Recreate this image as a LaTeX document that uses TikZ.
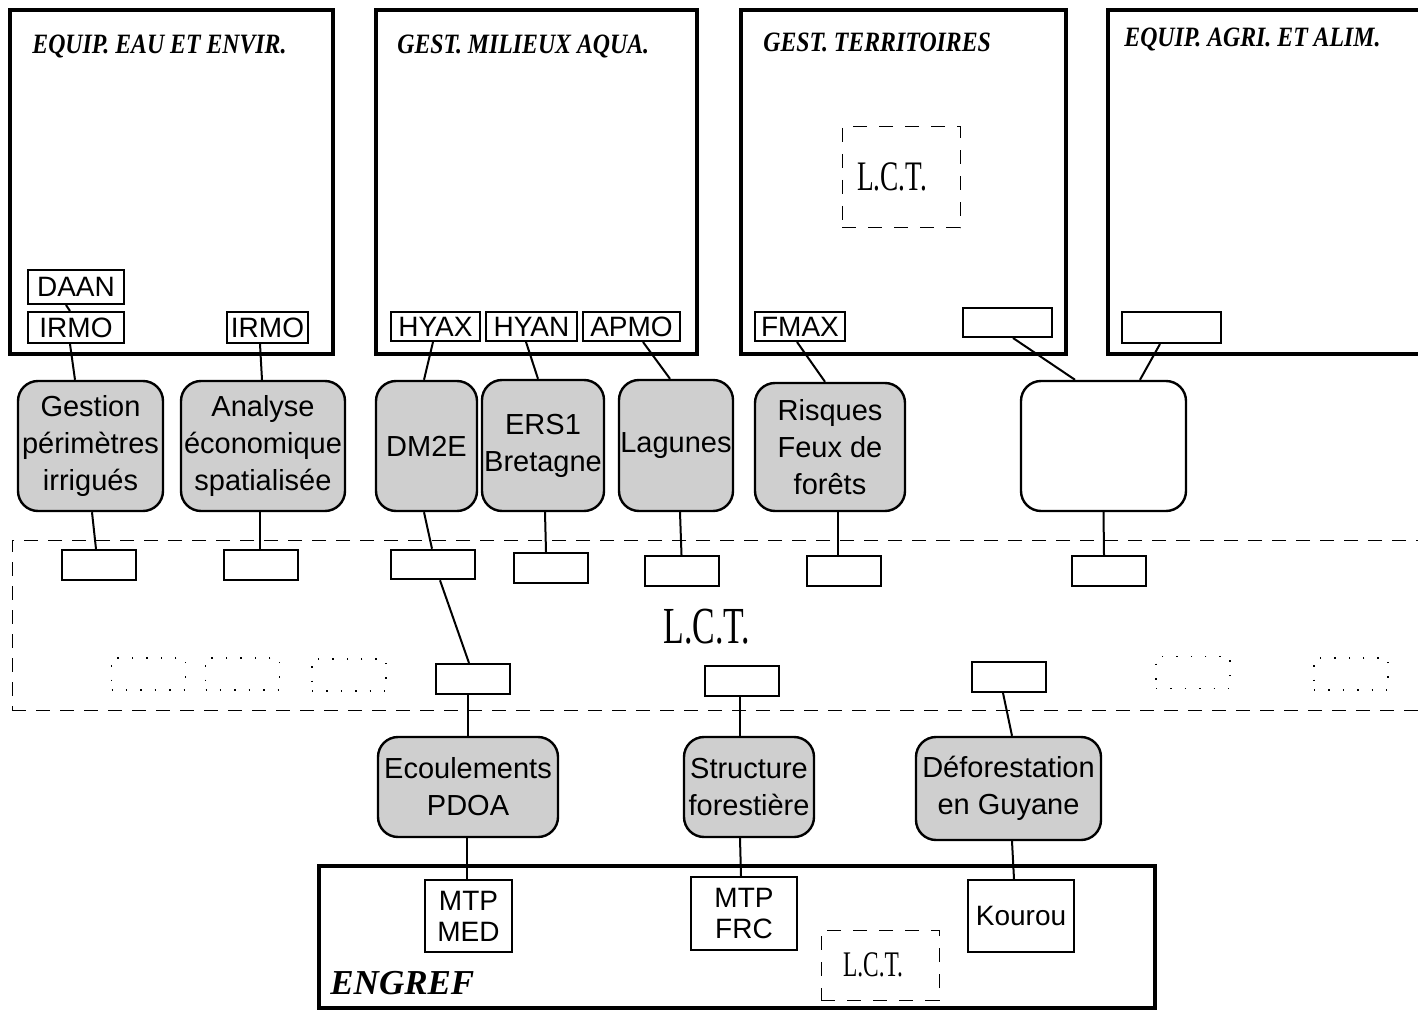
\documentclass[tikz,border=0pt]{standalone}
\usepackage{fontspec}
\setmainfont{Liberation Serif}
\newfontfamily\hv{Liberation Sans}
\newfontfamily\lctfont[FakeStretch=0.65]{Liberation Serif}
\newfontfamily\titlefont[FakeStretch=0.85]{Liberation Serif}
\begin{document}
\begin{tikzpicture}[x=0.5pt,y=-0.5pt,
  bigbox/.style={draw,line width=2pt,inner sep=0pt},
  title/.style={anchor=west,inner sep=0pt,font=\titlefont\fontsize{14}{16}\selectfont\bfseries\itshape},
  sbox/.style={draw,line width=1pt,inner sep=0pt,font=\hv\fontsize{14}{16}\selectfont},
  gbox/.style={draw,line width=1.2pt,rounded corners=10pt,fill=gray!38,inner sep=0pt,align=center,font=\hv\fontsize{14.5}{18.5}\selectfont},
  wbox/.style={draw,line width=1.2pt,rounded corners=10pt,fill=white,inner sep=0pt},
  cbox/.style={draw,line width=1pt,inner sep=0pt,minimum width=37pt,minimum height=15pt},
  lctbox/.style={draw,line width=0.5pt,dash pattern=on 7pt off 6pt,inner sep=0pt},
  dotbox/.style={draw,line width=0.7pt,dash pattern=on 0.7pt off 6.5pt,inner sep=0pt,minimum width=37pt,minimum height=16pt},
  mbox/.style={draw,line width=1pt,inner sep=0pt,align=center,font=\hv\fontsize{14}{15.5}\selectfont},
  conn/.style={line width=1pt}]
\useasboundingbox (0,0) rectangle (1418,1010);

% big boxes
\node[bigbox,minimum width=161.5pt,minimum height=172pt] (b1) at (171.5,182) {};
\node[bigbox,minimum width=160.5pt,minimum height=172pt] (b2) at (536.5,182) {};
\node[bigbox,minimum width=162.5pt,minimum height=172pt] (b3) at (903.5,182) {};
\node[bigbox,minimum width=166pt,minimum height=172pt] (b4) at (1274,182) {};
\node[title] (t1) at (32,47) {EQUIP. EAU ET ENVIR.};
\node[title] (t2) at (397,47) {GEST. MILIEUX AQUA.};
\node[title] (t3) at (763,42) {GEST. TERRITOIRES};
\node[title] (t4) at (1124,40) {EQUIP. AGRI. ET ALIM.};

\node[lctbox,minimum width=59pt,minimum height=50.5pt] (l1) at (901,177.5) {};
\node[font=\lctfont\fontsize{21}{22}\selectfont] (l1t) at (892,177) {L.C.T.};

% small boxes in big boxes
\node[sbox,minimum width=48pt,minimum height=17pt] (daan) at (76,287) {DAAN};
\node[sbox,minimum width=48pt,minimum height=15.5pt] (irmo1) at (76,327.5) {IRMO};
\node[sbox,minimum width=40.5pt,minimum height=15.5pt] (irmo2) at (267.5,327.5) {IRMO};
\node[sbox,minimum width=44.5pt,minimum height=14.5pt] (hyax) at (435.5,326.5) {HYAX};
\node[sbox,minimum width=45.5pt,minimum height=14.5pt] (hyan) at (531.5,326.5) {HYAN};
\node[sbox,minimum width=48.5pt,minimum height=14.5pt] (apmo) at (631.5,326.5) {APMO};
\node[sbox,minimum width=45pt,minimum height=14.5pt] (fmax) at (800,326.5) {FMAX};
\node[sbox,minimum width=44.5pt,minimum height=14.5pt] (e3) at (1007.5,322.5) {};
\node[sbox,minimum width=49.5pt,minimum height=15.5pt] (e4) at (1171.5,327.5) {};

% gray rounded boxes row 1
\node[gbox,minimum width=72.5pt,minimum height=65pt] (g1) at (90.5,446) {Gestion\\périmètres\\irrigués};
\node[gbox,minimum width=82pt,minimum height=65pt] (g2) at (263,446) {Analyse\\économique\\spatialisée};
\node[gbox,minimum width=50.5pt,minimum height=65pt] (g3) at (426.5,446) {DM2E};
\node[gbox,minimum width=61pt,minimum height=65.5pt] (g4) at (543,445.5) {ERS1\\Bretagne};
\node[gbox,minimum width=57pt,minimum height=65.5pt] (g5) at (676,445.5) {Lagunes};
\node[gbox,minimum width=75pt,minimum height=64pt] (g6) at (830,447) {Risques\\Feux de\\forêts};
\node[wbox,minimum width=82.5pt,minimum height=65pt] (g7) at (1103.5,446) {};

% L.C.T. band
\node[lctbox,dash pattern=on 7pt off 5pt,minimum width=714pt,minimum height=85pt] (band) at (726,625) {};
\node[font=\lctfont\fontsize{26}{28}\selectfont] (bandt) at (707,627) {L.C.T.};

% row A boxes
\node[cbox] (a1) at (99,565) {};
\node[cbox] (a2) at (261,565) {};
\node[cbox,line width=1.3pt,minimum width=42pt,minimum height=14.5pt] (a3) at (433,564.5) {};
\node[cbox] (a4) at (550.5,568) {};
\node[cbox] (a5) at (681.5,571) {};
\node[cbox] (a6) at (844,571) {};
\node[cbox] (a7) at (1109,571) {};

% row B boxes
\node[cbox] (c1) at (472.5,679) {};
\node[cbox] (c2) at (741.5,680.5) {};
\node[cbox] (c3) at (1009,677) {};

% dotted boxes
\node[dotbox] (d1) at (148.5,674) {};
\node[dotbox] (d2) at (242.5,674) {};
\node[dotbox] (d3) at (349,675) {};
\node[dotbox] (d4) at (1193,672.5) {};
\node[dotbox] (d5) at (1351,674) {};

% gray row 2
\node[gbox,minimum width=90pt,minimum height=50pt] (h1) at (468,787) {Ecoulements\\PDOA};
\node[gbox,minimum width=65pt,minimum height=50pt] (h2) at (749,787) {Structure\\forestière};
\node[gbox,minimum width=92.5pt,minimum height=51.5pt] (h3) at (1008.5,788.5) {Déforestation\\en Guyane};

% ENGREF
\node[bigbox,minimum width=418pt,minimum height=71pt] (eng) at (737,937) {};
\node[anchor=west,inner sep=0pt,font=\fontsize{17.5}{19}\selectfont\bfseries\itshape] (engt) at (330,983) {ENGREF};
\node[mbox,minimum width=43.5pt,minimum height=36pt] (m1) at (468.5,916) {MTP\\MED};
\node[mbox,minimum width=53pt,minimum height=36.5pt] (m2) at (744,913.5) {MTP\\FRC};
\node[mbox,minimum width=53pt,minimum height=36pt] (m3) at (1021,916) {Kourou};
\node[lctbox,minimum width=59pt,minimum height=35pt] (l3) at (880,965) {};
\node[font=\lctfont\fontsize{18}{20}\selectfont] (l3t) at (873,965) {L.C.T.};

% connectors
\draw[conn] ([xshift=-5pt]daan.south) -- ([xshift=-3pt]irmo1.north);
\draw[conn] ([xshift=-3pt]irmo1.south) -- ([xshift=-7.75pt]g1.north);
\draw[conn] ([xshift=-3.75pt]irmo2.south) -- ([xshift=-0.5pt]g2.north);
\draw[conn] ([xshift=-1.25pt]hyax.south) -- ([xshift=-1.25pt]g3.north);
\draw[conn] ([xshift=-2.75pt]hyan.south) -- ([xshift=-2.5pt]g4.north);
\draw[conn] ([xshift=5.75pt]apmo.south) -- ([xshift=-3pt]g5.north);
\draw[conn] ([xshift=-1.5pt]fmax.south) -- ([xshift=-2.5pt]g6.north);
\draw[conn] ([xshift=2.75pt]e3.south) -- ([xshift=-14.25pt]g7.north);
\draw[conn] ([xshift=-5.75pt]e4.south) -- ([xshift=18.25pt]g7.north);

\draw[conn] ([xshift=0.75pt]g1.south) -- ([xshift=-1.5pt]a1.north);
\draw[conn] ([xshift=-1.5pt]g2.south) -- ([xshift=-0.5pt]a2.north);
\draw[conn] ([xshift=-1.25pt]g3.south) -- ([xshift=-0.5pt]a3.north);
\draw[conn] ([xshift=1pt]g4.south) -- ([xshift=-2.25pt]a4.north);
\draw[conn] ([xshift=2pt]g5.south) -- (a5.north);
\draw[conn] ([xshift=4pt]g6.south) -- ([xshift=-3pt]a6.north);
\draw[conn] (g7.south) -- ([xshift=-2.5pt]a7.north);

\draw[conn] ([xshift=3.5pt]a3.south) -- ([xshift=-1.75pt]c1.north);
\draw[conn] ([xshift=-2.25pt]c1.south) -- (h1.north);
\draw[conn] ([xshift=-0.75pt]c2.south) -- ([xshift=-4.5pt]h2.north);
\draw[conn] ([xshift=-3pt]c3.south) -- ([xshift=1.75pt]h3.north);

\draw[conn] ([xshift=-0.5pt]h1.south) -- ([xshift=-0.75pt]m1.north);
\draw[conn] ([xshift=-4.5pt]h2.south) -- ([xshift=-1.5pt]m2.north);
\draw[conn] ([xshift=1.75pt]h3.south) -- ([xshift=-3.5pt]m3.north);
\end{tikzpicture}
\end{document}
